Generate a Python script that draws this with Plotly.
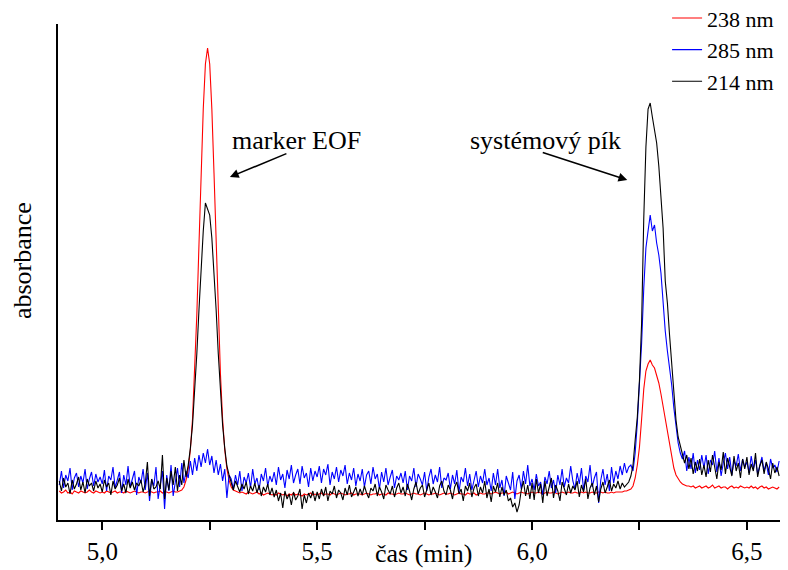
import numpy as np
import plotly.graph_objects as go

# Electropherogram traces, sampled every 0.005 min from 4.900 min.
# Values are detector response in arbitrary absorbance units.
T0 = 4.900
DT = 0.005

a238 = [
    2, 0, 1, 3, 0, 1, -1, 2, 1, 0, 2, 1, 0, 1, 3, 1, 0, 2, 1, 0,
    1, 0, 2, 1, 0, 1, 2, 0, 1, 1, 0, 2, 1, 0, 1, 2, 1, 0, 1, 1,
    0, 1, 2, 1, 0, 1, 1, 2, 0, 1, 1, 0, 1, 2, 1, 1, 2, 3, 6, 13,
    24, 43, 74, 119, 178, 248, 320, 384, 429, 445, 429, 384, 320, 248, 178, 119, 74, 43, 24, 13,
    6, 3, 2, 1, 0, 1, 0, -1, 1, 0, -1, 0, 1, -1, 0, -2, -1, 0, -1, -2,
    -1, -2, 0, -1, -2, -1, -3, -1, -2, 0, -2, -1, -2, -3, -1, -2, -1, 0, -2, -1,
    -2, -1, 0, -2, -1, -1, -2, 0, -1, -2, -1, 0, -1, -2, -1, -1, 0, -2, -1, -1,
    -1, -2, -1, 0, -1, -2, -1, -1, 0, -2, -1, -1, -2, 0, -1, -1, -2, -1, 0, -1,
    -1, 0, -1, -2, -1, 0, -1, -1, -2, -1, 0, -1, -2, -1, -1, 0, -1, -2, -1, 0,
    -1, -1, 0, -1, -2, -1, 0, -1, -1, -2, 0, -1, -1, 0, -2, -1, 0, -1, -1, 0,
    0, -1, 0, 1, 0, -1, 0, 0, 1, -1, 0, 1, 0, -1, 0, 1, 0, 0, -1, 0,
    1, 0, 0, 1, 0, -1, 0, 1, 0, 0, 1, 0, -1, 0, 1, 0, 0, 1, 0, 0,
    1, 0, 0, 1, 0, 1, 0, 0, 1, 0, 0, 1, 1, 0, 1, 0, 0, 1, 0, 1,
    1, 1, 1, 2, 2, 3, 4, 7, 15, 28, 46, 74, 104, 122, 129, 133, 128, 125, 118, 110,
    99, 86, 74, 60, 47, 36, 25, 18, 14, 11, 9, 8, 7, 7, 6, 7, 5, 6, 7, 5,
    6, 7, 5, 6, 8, 5, 6, 7, 5, 6, 6, 4, 6, 7, 5, 6, 5, 7, 6, 5,
    6, 5, 7, 5, 6, 4, 6, 7, 5, 6, 4, 5, 6, 5, 4, 6,
]

a285 = [
    8, 22, 5, 18, 12, 25, 3, 15, 20, 6, 17, 10, 24, 4, 14, 21, 7, 19, 11, 16,
    9, 23, 2, 17, 13, 26, 5, 12, 21, 0, 18, 8, 27, 6, 15, 22, -2, 16, 10, 24,
    3, 20, -8, 14, 7, 26, -6, 10, 22, -16, 18, 2, 28, -3, 12, 25, 6, 30, 10, 22,
    15, 32, 18, 35, 22, 38, 26, 40, 30, 44, 28, 37, 20, 33, 18, 29, 12, 24, -5, 18,
    14, 4, 18, 8, 22, 2, 16, 10, 20, 5, 24, 9, 15, 3, 19, 12, 25, 7, 17, 11,
    21, 8, 26, 13, 19, 5, 23, 14, 28, 10, 18, 24, 9, 27, 15, 20, 6, 25, 12, 22,
    16, 27, 10, 24, 18, 29, 8, 21, 14, 26, 11, 23, 17, 28, 9, 20, 13, 25, 7, 19,
    12, 24, 6, 18, 22, 9, 26, 14, 19, 4, 21, 11, 25, 8, 16, 23, 5, 17, 13, 20,
    10, 22, 3, 17, 12, 25, 6, 19, 14, 8, 21, 2, 16, 24, 9, 18, 11, 26, 5, 15,
    13, 20, 4, 18, 9, 23, 1, 16, 11, 25, 7, 19, 3, 14, 22, 6, 17, 10, 24, 8,
    15, 2, 20, 8, 24, 5, 13, -3, 17, 10, 3, 21, -6, 12, 18, 4, 22, 9, 28, 7,
    14, 3, 19, 7, 11, -2, 16, 9, 22, 5, 13, 0, 18, 8, 24, 6, 15, 10, 27, 12,
    4, 20, 9, 25, 3, 17, 11, 28, 6, 15, 21, -10, 13, 24, 8, 19, 2, 26, 10, 22,
    14, 27, 18, 30, 20, 26, 28, 22, 40, 70, 105, 150, 205, 245, 262, 278, 262, 268, 250, 238,
    220, 190, 162, 142, 125, 108, 85, 66, 50, 40, 34, 42, 22, 36, 24, 40, 20, 33, 23, 38,
    25, 38, 19, 33, 28, 42, 21, 35, 17, 30, 40, 24, 36, 18, 32, 27, 39, 22, 34, 26,
    31, 20, 37, 24, 33, 19, 29, 36, 22, 30, 18, 34, 25, 28, 21, 32,
]

a214 = [
    12, 2, 15, 6, 10, -1, 13, 4, 9, 16, 3, 11, 0, 14, 7, 10, 2, 12, 5, 9,
    1, 13, 6, 10, -2, 12, 4, 8, 15, 2, 9, 0, 14, 5, 11, 3, 10, 7, 13, 1,
    9, 31, -3, 14, 4, 6, 12, 4, 38, -6, 15, 3, 22, 8, 26, 2, 18, 8, 33, 16,
    28, 45, 68, 100, 139, 183, 226, 262, 290, 283, 278, 255, 224, 183, 139, 100, 68, 45, 27, 18,
    10, 3, 12, 6, 1, 9, 4, 11, -1, 7, 2, 10, 0, 8, -3, 6, 1, 9, -2, 5,
    -4, 3, -8, 0, -15, 2, -6, -1, -12, 1, -7, -3, 4, -16, -2, -10, 0, -5, 2, -8,
    1, -6, 4, -3, 6, -8, 2, -1, 7, -5, 3, 0, -7, 5, -2, 8, -4, 1, 6, -3,
    4, -2, 7, 0, -5, 5, 2, 9, -3, 6, 1, -6, 8, 3, -1, 7, -4, 5, 10, 0,
    6, -3, 9, 2, -7, 4, 11, -1, 5, 8, -4, 3, 10, -2, 6, 1, -5, 7, 12, 2,
    -2, 8, 3, -6, 6, 11, -1, 4, -8, 7, 2, 10, -4, 5, 9, -3, 6, 0, 12, -5,
    4, -9, 7, 1, 10, -4, 6, -2, 3, -8, -5, -14, -10, -19, -12, 3, 12, -3, 8, -6,
    10, -7, 14, 0, 9, -10, 12, -3, 6, 15, -5, 8, 2, -8, 11, 4, -2, 9, 0, 7,
    3, 12, -4, 8, 1, 14, -6, 5, 10, -2, 7, -9, 4, 11, 0, 6, 13, 2, 9, 5,
    12, 4, 10, 6, 9, 11, 17, 28, 53, 76, 113, 170, 275, 346, 384, 390, 376, 362, 350, 327,
    298, 265, 212, 190, 158, 128, 100, 73, 56, 47, 41, 30, 38, 24, 35, 19, 31, 22, 34, 18,
    28, 16, 33, 21, 38, 25, 14, 31, 23, 41, 19, 35, 26, 17, 37, 22, 30, 15, 34, 24,
    36, 18, 29, 22, 40, 16, 27, 33, 19, 31, 24, 14, 30, 20, 26, 17,
]

series_names = ["238 nm", "285 nm", "214 nm"]
series_colors = ["#ff0000", "#0000ff", "#000000"]

x_ticks = [5.0, 5.25, 5.5, 5.75, 6.0, 6.25, 6.5]
x_tick_text = ["5,0", "", "5,5", "", "6,0", "", "6,5"]

t = np.round(T0 + DT * np.arange(len(a238)), 3)

SERIF = "Liberation Serif"

fig = go.Figure()
for name, color, vals in zip(series_names, series_colors, [a238, a285, a214]):
    fig.add_trace(go.Scatter(
        x=t, y=vals, mode="lines", name=name,
        line=dict(color=color, width=1.1),
    ))

# arrows pointing at the two peaks
fig.add_annotation(x=5.297, y=316, ax=58, ay=-24, text="", showarrow=True,
                   arrowhead=2, arrowsize=1.1, arrowwidth=1.6, arrowcolor="black")
fig.add_annotation(x=6.2216, y=313, ax=-86, ay=-28, text="", showarrow=True,
                   arrowhead=2, arrowsize=1.1, arrowwidth=1.6, arrowcolor="black")
fig.add_annotation(x=5.452, y=353, text="marker EOF", showarrow=False,
                   font=dict(family=SERIF, size=26, color="black"))
fig.add_annotation(x=6.0324, y=353, text="systémový pík", showarrow=False,
                   font=dict(family=SERIF, size=26, color="black"))

# axis titles
fig.add_annotation(xref="paper", yref="paper", x=0.506, y=-0.068, text="čas (min)",
                   showarrow=False, yanchor="middle",
                   font=dict(family=SERIF, size=26, color="black"))
fig.add_annotation(xref="paper", yref="paper", x=-0.0499, y=0.524, text="absorbance",
                   showarrow=False, textangle=-90, xanchor="center", yanchor="middle",
                   font=dict(family=SERIF, size=26, color="black"))

fig.update_layout(
    width=788, height=570,
    margin=dict(l=58, r=8, t=24, b=50, autoexpand=False),
    plot_bgcolor="white", paper_bgcolor="white",
    font=dict(family=SERIF, color="black"),
    showlegend=True,
    legend=dict(x=0.8436, y=1.054, xanchor="left", yanchor="top",
                bgcolor="rgba(0,0,0,0)", font=dict(family=SERIF, size=22, color="black")),
    xaxis=dict(
        range=[4.897, 6.577], showgrid=False, zeroline=False,
        showline=True, linecolor="black", linewidth=2,
        ticks="outside", ticklen=8, tickwidth=2, tickcolor="black",
        tickvals=x_ticks, ticktext=x_tick_text,
        tickfont=dict(family=SERIF, size=25, color="black"),
    ),
    yaxis=dict(
        range=[-27, 469], showgrid=False, zeroline=False,
        showline=True, linecolor="black", linewidth=2,
        showticklabels=False, ticks="",
    ),
)

fig.write_html("out.html")
